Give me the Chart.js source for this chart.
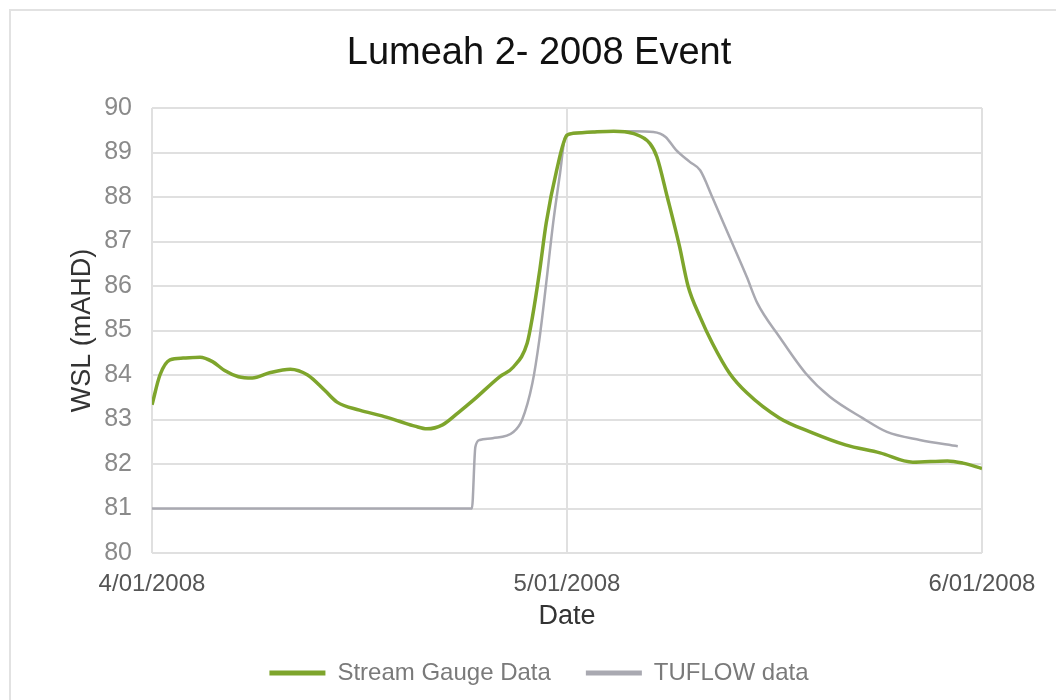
<!DOCTYPE html>
<html>
<head>
<meta charset="utf-8">
<title>Lumeah 2- 2008 Event</title>
<script src="https://cdn.jsdelivr.net/npm/chart.js@4.4.1/dist/chart.umd.min.js"></script>
<style>
  html, body { margin: 0; padding: 0; background: #ffffff; overflow: hidden; }
  body { width: 1056px; height: 700px; position: relative; }
  #frame {
    position: absolute; left: 9px; top: 9px; width: 1120px; height: 740px;
    border: 2px solid #e2e2e2; box-sizing: border-box;
  }
  #wrap { position: absolute; left: 10px; top: 10px; width: 1058px; height: 690px; }
</style>
</head>
<body>
<div id="frame"></div>
<div id="wrap"><canvas id="chart"></canvas></div>
<script>
// Time axis: hours since 4/01/2008 00:00
const tickHours = [0, 24, 48];
const tickLabels = ['4/01/2008', '5/01/2008', '6/01/2008'];

// Stream gauge record (water surface level, mAHD)
const gaugeHours = [0, 0.46, 1.04, 1.8, 2.78, 3.5, 4.2, 5.0, 5.8, 6.8, 8.0, 9.0, 10.0, 10.7,
  12.0, 13.3, 14.3, 15.2, 15.9, 16.8, 17.7, 18.6, 20.1, 20.9, 21.7, 22.0, 22.4, 22.8, 23.4,
  24.0, 24.35, 25.5, 26.7, 27.8, 28.8, 29.2, 29.8, 30.5, 31.0, 31.7, 32.4, 33.4, 34.4, 36.3,
  38.2, 40.1, 42.1, 44.0, 46.0, 46.9, 48.0];
const gaugeLevels = [83.33, 84.0, 84.34, 84.38, 84.40, 84.3, 84.1, 83.96, 83.93, 84.05, 84.13,
  84.0, 83.65, 83.39, 83.21, 83.08, 82.96, 82.85, 82.79, 82.88, 83.15, 83.44, 83.96, 84.18,
  84.72, 85.30, 86.29, 87.42, 88.6, 89.39, 89.43, 89.46, 89.48, 89.43, 89.2, 88.9, 88.0, 86.9,
  86.0, 85.3, 84.72, 84.04, 83.6, 83.03, 82.70, 82.43, 82.25, 82.04, 82.07, 82.02, 81.9];

// TUFLOW model output (water surface level, mAHD)
const tuflowHours = [0, 18.5, 18.7, 18.95, 19.7, 20.9, 21.4, 22.0, 22.4, 22.8, 23.2, 23.6, 23.9,
  24.35, 25.5, 27.8, 29.0, 29.7, 30.3, 31.1, 31.7, 32.4, 33.4, 34.4, 35.0, 36.3, 37.8, 39.2,
  41.1, 42.5, 44.4, 46.6];
const tuflowLevels = [81.0, 81.0, 82.38, 82.54, 82.58, 82.72, 82.99, 83.82, 84.79, 86.07, 87.42,
  88.54, 89.35, 89.43, 89.46, 89.48, 89.46, 89.35, 89.06, 88.79, 88.6, 88.0, 87.1, 86.2, 85.62,
  84.85, 84.04, 83.51, 83.03, 82.72, 82.54, 82.40];

const toPoints = (xs, ys) => xs.map((x, i) => ({ x: x, y: ys[i] }));

const FONT = "'Liberation Sans', Arial, sans-serif";
const GREEN = '#7ea52c';
const GREY = '#a9a9b1';
const GRID = '#e0e0e0';

new Chart(document.getElementById('chart'), {
  type: 'line',
  data: {
    datasets: [
      {
        label: 'Stream Gauge Data',
        data: toPoints(gaugeHours, gaugeLevels),
        borderColor: GREEN,
        backgroundColor: GREEN,
        borderWidth: 3.5,
        pointRadius: 0,
        cubicInterpolationMode: 'monotone'
      },
      {
        label: 'TUFLOW data',
        data: toPoints(tuflowHours, tuflowLevels),
        borderColor: GREY,
        backgroundColor: GREY,
        borderWidth: 2.5,
        pointRadius: 0,
        cubicInterpolationMode: 'monotone'
      }
    ]
  },
  options: {
    responsive: true,
    maintainAspectRatio: false,
    animation: false,
    devicePixelRatio: 1,
    layout: { padding: { left: 86, right: 86, top: 0, bottom: 5 } },
    plugins: {
      tooltip: { enabled: false },
      title: {
        display: true,
        text: 'Lumeah 2- 2008 Event',
        color: '#111111',
        font: { family: FONT, size: 38, weight: 'normal' },
        padding: { top: 21, bottom: 31.4 }
      },
      legend: {
        display: true,
        position: 'bottom',
        labels: {
          color: '#7a7a7a',
          font: { family: FONT, size: 24 },
          boxWidth: 56,
          boxHeight: 5,
          padding: 35,
          generateLabels(chart) {
            const items = Chart.defaults.plugins.legend.labels.generateLabels(chart);
            items.forEach((it, i) => {
              const ds = chart.data.datasets[i];
              it.fillStyle = ds.borderColor;
              it.strokeStyle = ds.borderColor;
              it.lineWidth = 0;
            });
            return items;
          }
        }
      }
    },
    scales: {
      x: {
        type: 'linear',
        min: 0,
        max: 48,
        afterBuildTicks(scale) {
          scale.ticks = tickHours.map(v => ({ value: v }));
        },
        afterFit(scale) { scale.height = 73; },
        ticks: {
          color: '#555555',
          font: { family: FONT, size: 24 },
          padding: 17,
          maxRotation: 0,
          autoSkip: false,
          callback: (value) => tickLabels[tickHours.indexOf(value)]
        },
        grid: { color: GRID, lineWidth: 2, drawTicks: false },
        border: { display: false },
        title: {
          display: true,
          text: 'Date',
          color: '#333333',
          font: { family: FONT, size: 27 },
          padding: { top: 0, bottom: -7 }
        }
      },
      y: {
        min: 80,
        max: 90,
        afterFit(scale) { scale.width = 56; },
        ticks: {
          stepSize: 1,
          color: '#8a8a8a',
          font: { family: FONT, size: 25 },
          padding: 20
        },
        grid: { color: GRID, lineWidth: 2, drawTicks: false },
        border: { display: false },
        title: {
          display: true,
          text: 'WSL (mAHD)',
          color: '#333333',
          font: { family: FONT, size: 27 },
          padding: { top: -30, bottom: 0 }
        }
      }
    }
  }
});
</script>
</body>
</html>
